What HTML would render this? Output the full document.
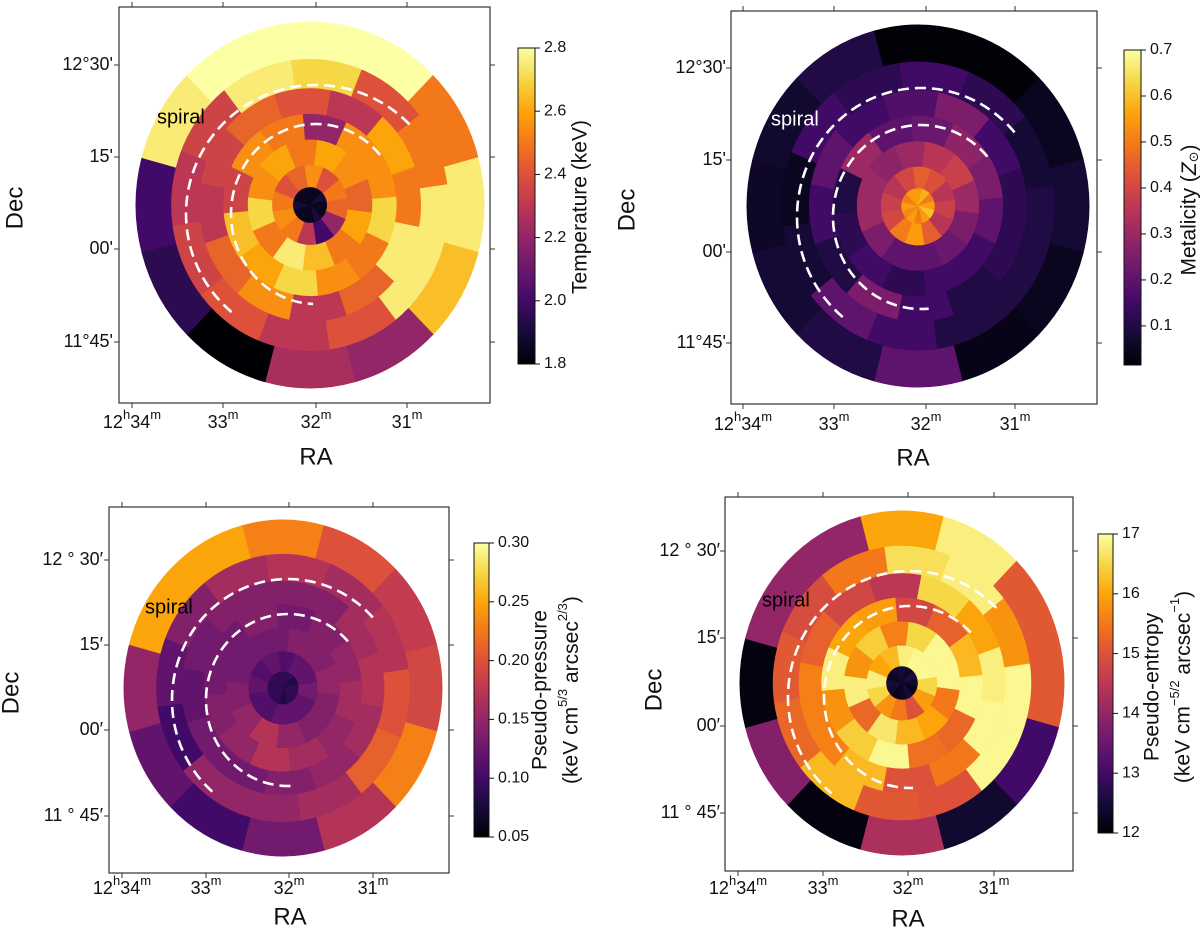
<!DOCTYPE html>
<html><head><meta charset="utf-8"><style>
html,body{margin:0;padding:0;background:#fff;}
svg{display:block;font-family:"Liberation Sans","DejaVu Sans",sans-serif;}
</style></head><body>
<svg id="fig" width="1200" height="934" viewBox="0 0 1200 934" xmlns="http://www.w3.org/2000/svg">
<defs>
<linearGradient id="inferno" x1="0" y1="1" x2="0" y2="0">
<stop offset="0" stop-color="#000004"/><stop offset="0.1" stop-color="#160b39"/><stop offset="0.2" stop-color="#420a68"/><stop offset="0.3" stop-color="#6a176e"/><stop offset="0.4" stop-color="#932667"/><stop offset="0.5" stop-color="#bc3754"/><stop offset="0.6" stop-color="#dd513a"/><stop offset="0.7" stop-color="#f37819"/><stop offset="0.8" stop-color="#fca50a"/><stop offset="0.9" stop-color="#f6d746"/><stop offset="1" stop-color="#fcffa4"/>
</linearGradient>
</defs>
</svg>
<script>
// ---- data ----
const ringEdges = [0,0.1,0.22,0.36,0.5,0.64,0.8,1.0];
// sectors clockwise from north, 30 deg each
const tempValues = [
 [1.85,1.85,1.9,1.85,1.85,1.9,1.85,1.85,1.85,1.9,1.85,1.85],
 [2.55,2.4,2.5,2.45,2.2,2.0,2.3,2.5,2.55,2.5,2.4,2.45],
 [2.5,2.6,2.55,2.45,2.6,2.5,2.65,2.75,2.5,2.7,2.55,2.6],
 [2.2,2.55,2.55,2.7,2.5,2.55,2.7,2.6,2.65,2.35,2.55,2.5],
 [2.4,2.3,2.6,2.5,2.75,2.45,2.3,2.55,2.45,2.3,2.35,2.45],
 [2.7,2.4,2.5,2.75,2.75,2.4,2.3,2.4,2.35,2.3,2.35,2.75],
 [2.8,2.8,2.5,2.75,2.65,2.2,2.25,1.8,1.95,2.0,2.75,2.8]
];
const metalValues = [
 [0.55,0.58,0.5,0.55,0.6,0.55,0.5,0.55,0.52,0.55,0.5,0.55],
 [0.45,0.42,0.35,0.38,0.35,0.45,0.55,0.5,0.4,0.38,0.35,0.4],
 [0.3,0.35,0.38,0.3,0.25,0.22,0.2,0.2,0.25,0.3,0.3,0.28],
 [0.22,0.28,0.25,0.2,0.15,0.15,0.12,0.15,0.12,0.1,0.3,0.2],
 [0.18,0.25,0.15,0.12,0.12,0.1,0.15,0.25,0.1,0.15,0.2,0.15],
 [0.15,0.12,0.08,0.1,0.1,0.1,0.15,0.2,0.08,0.05,0.15,0.12],
 [0.02,0.02,0.05,0.08,0.05,0.04,0.2,0.1,0.08,0.06,0.07,0.1]
];
const pressValues = [
 [0.09,0.09,0.08,0.09,0.09,0.09,0.08,0.09,0.09,0.09,0.09,0.09],
 [0.11,0.12,0.12,0.13,0.12,0.12,0.12,0.11,0.11,0.12,0.11,0.12],
 [0.13,0.14,0.14,0.15,0.14,0.14,0.15,0.17,0.15,0.14,0.13,0.13],
 [0.13,0.14,0.15,0.16,0.15,0.16,0.17,0.15,0.14,0.13,0.13,0.14],
 [0.14,0.14,0.16,0.17,0.16,0.15,0.14,0.13,0.13,0.12,0.13,0.14],
 [0.17,0.16,0.17,0.2,0.21,0.16,0.15,0.15,0.1,0.12,0.14,0.16],
 [0.23,0.2,0.18,0.19,0.23,0.17,0.13,0.1,0.12,0.15,0.25,0.25]
];
const entropyValues = [
 [12.5,12.3,12.6,12.4,12.2,12.5,12.3,12.2,12.4,12.5,12.3,12.4],
 [16.8,16.9,16.9,16.5,15.9,15.0,15.5,15.8,16.5,16.8,16.0,16.2],
 [15.6,16.5,16.9,16.9,15.5,16.0,16.2,16.7,15.3,16.8,15.8,16.4],
 [14.8,15.2,16.2,16.9,15.3,15.4,16.9,16.4,15.8,16.8,16.0,15.9],
 [14.5,16.5,16.0,16.8,16.9,15.5,15.0,16.2,15.6,15.6,15.2,14.8],
 [16.6,16.8,15.8,16.9,16.9,15.0,15.1,16.2,15.3,15.1,14.9,15.5],
 [16.0,16.8,15.1,15.1,13.0,12.4,14.3,12.1,13.8,12.1,14.0,14.0]
];
const tempTicks = [1.8,2.0,2.2,2.4,2.6,2.8];
const metalTicks = [0.1,0.2,0.3,0.4,0.5,0.6,0.7];
const pressTicks = [0.05,0.10,0.15,0.20,0.25,0.30];
const entropyTicks = [12,13,14,15,16,17];
const raTickLabels = [["12","h","34","m"],["33","m"],["32","m"],["31","m"]];
const decLabelsA = ["12°30'","15'","00'","11°45'"];
const decLabelsB = ["12 ° 30′","15′","00′","11 ° 45′"];

// ---- layout ----
const panels = [
 {name:"temperature", vals:tempValues, ticks:tempTicks, dec:1, decLabels:decLabelsA, vmin:1.8, vmax:2.8,
  box:[119,7,490,403], cx:310, cy:205, rx:174, ry:183,
  xt:[132,223,316,407], yt:[65,157,249,342], xlabY:423, ylabX:113,
  cb:[518,48,535,364], title:["Temperature (keV)"], titleX:[581], titleY:207,
  decPos:[16,208], raPos:[316,458],
  arc:{cx:316,cy:214,o:[130,129,46,-142],i:[85,90,49,-178]}, spiral:[157,118,"#000"]},
 {name:"metallicity", vals:metalValues, ticks:metalTicks, dec:1, decLabels:decLabelsA, vmin:0.015, vmax:0.7,
  box:[731,11,1097,404], cx:918, cy:206, rx:171, ry:181,
  xt:[743,834,926,1015], yt:[68,160,252,343], xlabY:425, ylabX:726,
  cb:[1124,50,1141,365], title:["metal"], titleX:[1190], titleY:210,
  decPos:[628,210], raPos:[913,459],
  arc:{cx:921,cy:217,o:[124,129,49,-142],i:[88,92,49,-185]}, spiral:[771,120,"#fff"]},
 {name:"pseudo-pressure", vals:pressValues, ticks:pressTicks, dec:2, decLabels:decLabelsB, vmin:0.05, vmax:0.30,
  box:[109,507,449,873], cx:283, cy:688, rx:159, ry:168,
  xt:[122,206,289,373], yt:[560,645,730,816], xlabY:889, ylabX:103,
  cb:[474,543,489,837], title:["Pseudo-pressure","press2"], titleX:[541,572], titleY:690,
  decPos:[12,693], raPos:[290,918],
  arc:{cx:288,cy:700,o:[116,121,47,-142],i:[82,86,47,-184]}, spiral:[145,608,"#000"]},
 {name:"pseudo-entropy", vals:entropyValues, ticks:entropyTicks, dec:0, decLabels:decLabelsB, vmin:12, vmax:17,
  box:[725,497,1073,871], cx:902, cy:683, rx:162, ry:172,
  xt:[738,823,908,994], yt:[551,638,726,813], xlabY:889, ylabX:720,
  cb:[1098,534,1113,833], title:["Pseudo-entropy","ent2"], titleX:[1153,1184], titleY:687,
  decPos:[655,690], raPos:[908,920],
  arc:{cx:910,cy:697,o:[122,126,45,-140],i:[86,91,45,-182]}, spiral:[762,601,"#000"]}
];
const ringOffsets = [0,6,-8,10,-4,7,0];

const NS = "http://www.w3.org/2000/svg";
const svg = document.getElementById("fig");
const stops = [[0,[0,0,4]],[0.1,[22,11,57]],[0.2,[66,10,104]],[0.3,[106,23,110]],[0.4,[147,38,103]],[0.5,[188,55,84]],[0.6,[221,81,58]],[0.7,[243,120,25]],[0.8,[252,165,10]],[0.9,[246,215,70]],[1,[252,255,164]]];
function inferno(t){
  t=Math.max(0,Math.min(1,t));
  for(let k=1;k<stops.length;k++){
    if(t<=stops[k][0]){const a=stops[k-1],b=stops[k];const f=(t-a[0])/(b[0]-a[0]);
      const c=a[1].map((v,i)=>Math.round(v+(b[1][i]-v)*f));return `rgb(${c[0]},${c[1]},${c[2]})`;}
  }
  return "rgb(252,255,164)";
}
function el(tag,attrs,parent){const e=document.createElementNS(NS,tag);for(const k in attrs)e.setAttribute(k,attrs[k]);(parent||svg).appendChild(e);return e;}
function pt(p,th,r){const a=th*Math.PI/180;return [p.cx+p.rx*r*Math.sin(a), p.cy-p.ry*r*Math.cos(a)];}

panels.forEach((p,pi)=>{
  const g=el("g",{});
  
  
  const cmap=v=>inferno((v-p.vmin)/(p.vmax-p.vmin));
  p.vals.forEach((ring,ri)=>{
    const r0=ringEdges[ri], r1=ringEdges[ri+1];
    ring.forEach((v,si)=>{
      const t1=si*30-15+ringOffsets[ri], t2=t1+30;
      const A=pt(p,t1,r1),B=pt(p,t2,r1);
      let d=`M${A[0]},${A[1]} A${p.rx*r1},${p.ry*r1} 0 0 1 ${B[0]},${B[1]}`;
      if(r0>0){const C=pt(p,t2,r0),D=pt(p,t1,r0);d+=` L${C[0]},${C[1]} A${p.rx*r0},${p.ry*r0} 0 0 0 ${D[0]},${D[1]} Z`;}
      else d+=` L${p.cx},${p.cy} Z`;
      const c=cmap(v);
      const cell=el("path",{d:d,fill:c,stroke:c,"stroke-width":0.8},g);
      
      
    });
  });
  ["o","i"].forEach(k=>{
    const [arx,ary,ta,tb]=p.arc[k];
    const q={cx:p.arc.cx,cy:p.arc.cy,rx:arx,ry:ary};
    const S=pt(q,ta,1),E=pt(q,tb,1);
    const large=(ta-tb)>180?1:0;
    const a=el("path",{d:`M${S[0]},${S[1]} A${arx},${ary} 0 ${large} 0 ${E[0]},${E[1]}`,fill:"none",stroke:"#fff","stroke-width":2.6,"stroke-dasharray":"11 6"},g);
    
    
  });
  const sp=el("text",{x:p.spiral[0],y:p.spiral[1],fill:p.spiral[2],"font-size":20,"dominant-baseline":"middle"},g);
  sp.textContent="spiral";
  
  
  const [x0,y0,x1,y1]=p.box;
  const fr=el("rect",{x:x0,y:y0,width:x1-x0,height:y1-y0,fill:"none",stroke:"#333","stroke-width":1.2},g);
  
  
  p.xt.forEach((x,i)=>{
    el("line",{x1:x,y1:y1,x2:x,y2:y1+5,stroke:"#333","stroke-width":1},g);
    el("line",{x1:x,y1:y0,x2:x,y2:y0-5,stroke:"#333","stroke-width":1},g);
    const t=el("text",{x:x,y:p.xlabY,"font-size":18,"text-anchor":"middle","dominant-baseline":"middle",fill:"#111"},g);
    
    
    const parts=raTickLabels[i];
    parts.forEach((s,j)=>{const ts=el("tspan",{},t);ts.textContent=s;
      if(j%2===1){ts.setAttribute("font-size",13);ts.setAttribute("dy",-7);}
      else if(j>0){ts.setAttribute("dy",7);}});
  });
  p.yt.forEach((y,i)=>{
    el("line",{x1:x0,y1:y,x2:x0-5,y2:y,stroke:"#333","stroke-width":1},g);
    el("line",{x1:x1,y1:y,x2:x1+5,y2:y,stroke:"#333","stroke-width":1},g);
    const t=el("text",{x:p.ylabX,y:y,"font-size":18,"text-anchor":"end","dominant-baseline":"middle",fill:"#111"},g);
    t.textContent=p.decLabels[i];
    
    
  });
  const dl=el("text",{x:p.decPos[0],y:p.decPos[1],"font-size":24,"text-anchor":"middle","dominant-baseline":"middle",transform:`rotate(-90 ${p.decPos[0]} ${p.decPos[1]})`,fill:"#111"},g);
  dl.textContent="Dec";
  
  
  const rl=el("text",{x:p.raPos[0],y:p.raPos[1],"font-size":24,"text-anchor":"middle","dominant-baseline":"middle",fill:"#111"},g);
  rl.textContent="RA";
  
  
  const [c0,d0,c1,d1]=p.cb;
  const cbr=el("rect",{x:c0,y:d0,width:c1-c0,height:d1-d0,fill:"url(#inferno)",stroke:"#111","stroke-width":1},g);
  
  
  p.ticks.forEach(v=>{
    const y=d1-(v-p.vmin)/(p.vmax-p.vmin)*(d1-d0);
    el("line",{x1:c1,y1:y,x2:c1+5,y2:y,stroke:"#111","stroke-width":1},g);
    const t=el("text",{x:c1+9,y:y,"font-size":16,"dominant-baseline":"middle",fill:"#111"},g);
    t.textContent=(pi===2)?v.toFixed(2):(pi===3?String(v):v.toFixed(1));
    
    
  });
  p.title.forEach((s,k)=>{
    const x=p.titleX[k],y=p.titleY;
    const t=el("text",{x:x,y:y,"font-size":21,"text-anchor":"middle","dominant-baseline":"middle",transform:`rotate(-90 ${x} ${y})`,fill:"#111"},g);
    
    
    if(s==="metal"){
      t.appendChild(document.createTextNode("Metalicity ("));
      const z=el("tspan",{"font-style":"italic"},t);z.textContent="Z";
      const o=el("tspan",{"font-size":13,dy:5},t);o.textContent="⊙";
      const c=el("tspan",{dy:-5},t);c.textContent=")";
    } else if(s==="press2"){
      t.appendChild(document.createTextNode("(keV cm"));
      const a=el("tspan",{"font-size":13,dy:-8},t);a.textContent="5/3";
      const b=el("tspan",{dy:8},t);b.textContent=" arcsec";
      const c=el("tspan",{"font-size":13,dy:-8},t);c.textContent="2/3";
      const d=el("tspan",{dy:8},t);d.textContent=")";
    } else if(s==="ent2"){
      t.appendChild(document.createTextNode("(keV cm"));
      const a=el("tspan",{"font-size":13,dy:-8},t);a.textContent="−5/2";
      const b=el("tspan",{dy:8},t);b.textContent=" arcsec";
      const c=el("tspan",{"font-size":13,dy:-8},t);c.textContent="−1";
      const d=el("tspan",{dy:8},t);d.textContent=")";
    } else t.textContent=s;
  });
});
</script>
</body></html>
